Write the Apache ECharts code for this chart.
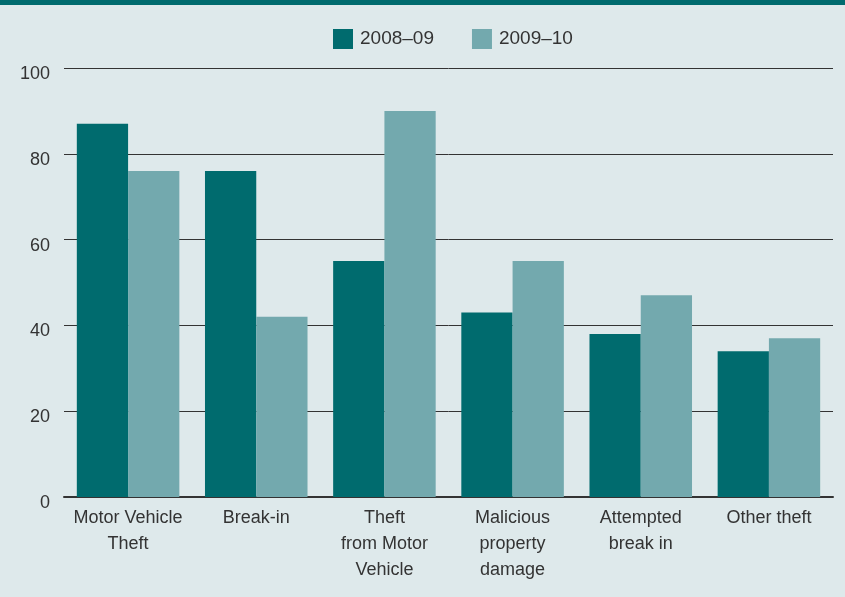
<!DOCTYPE html>
<html><head><meta charset="utf-8">
<script src="https://cdn.jsdelivr.net/npm/echarts@6/dist/echarts.min.js"></script>
<style>html,body{margin:0;padding:0;background:#dee9eb;}#c{width:845px;height:597px;}
#top{position:absolute;left:0;top:0;width:845px;height:5px;background:#006b6e;}</style>
</head><body><div id="c"></div><div id="top"></div>
<script>
const categories = ["Motor Vehicle\nTheft", "Break-in", "Theft\nfrom Motor\nVehicle", "Malicious\nproperty\ndamage", "Attempted\nbreak in", "Other theft"];
const series2008 = [87, 76, 55, 43, 38, 34];
const series2009 = [76, 42, 90, 55, 47, 37];
const seriesNames = ["2008–09", "2009–10"];
const FONT = "'Liberation Sans Narrow', 'Liberation Sans', sans-serif";
const chart = echarts.init(document.getElementById('c'));
chart.setOption({
  backgroundColor: '#dee9eb',
  animation: false,
  textStyle: {fontFamily: FONT},
  legend: {
    top: 24, left: 328, icon: 'rect', itemWidth: 20, itemHeight: 20, itemGap: 38,
    textStyle: {fontFamily: FONT, fontSize: 19, color: '#333', padding: [0, 0, 0, 2]},
    data: seriesNames
  },
  grid: {left: 64, right: 12, top: 68, bottom: 100},
  xAxis: {
    type: 'category', data: categories,
    axisLine: {lineStyle: {color: '#333', width: 2}},
    axisTick: {show: false},
    axisLabel: {fontFamily: FONT, fontSize: 18, color: '#333', lineHeight: 26, margin: 8, interval: 0}
  },
  yAxis: {
    type: 'value', min: 0, max: 100, interval: 20,
    axisLine: {show: false}, axisTick: {show: false},
    axisLabel: {fontFamily: FONT, fontSize: 18, color: '#333', margin: 14, verticalAlign: 'top', lineHeight: 12},
    splitLine: {lineStyle: {color: '#333', width: 1}}
  },
  series: [
    {name: seriesNames[0], type: 'bar', data: series2008, barGap: '0%', barCategoryGap: '20%', itemStyle: {color: '#006b6e'}},
    {name: seriesNames[1], type: 'bar', data: series2009, barGap: '0%', barCategoryGap: '20%', itemStyle: {color: '#73a9ae'}}
  ]
});
</script></body></html>
